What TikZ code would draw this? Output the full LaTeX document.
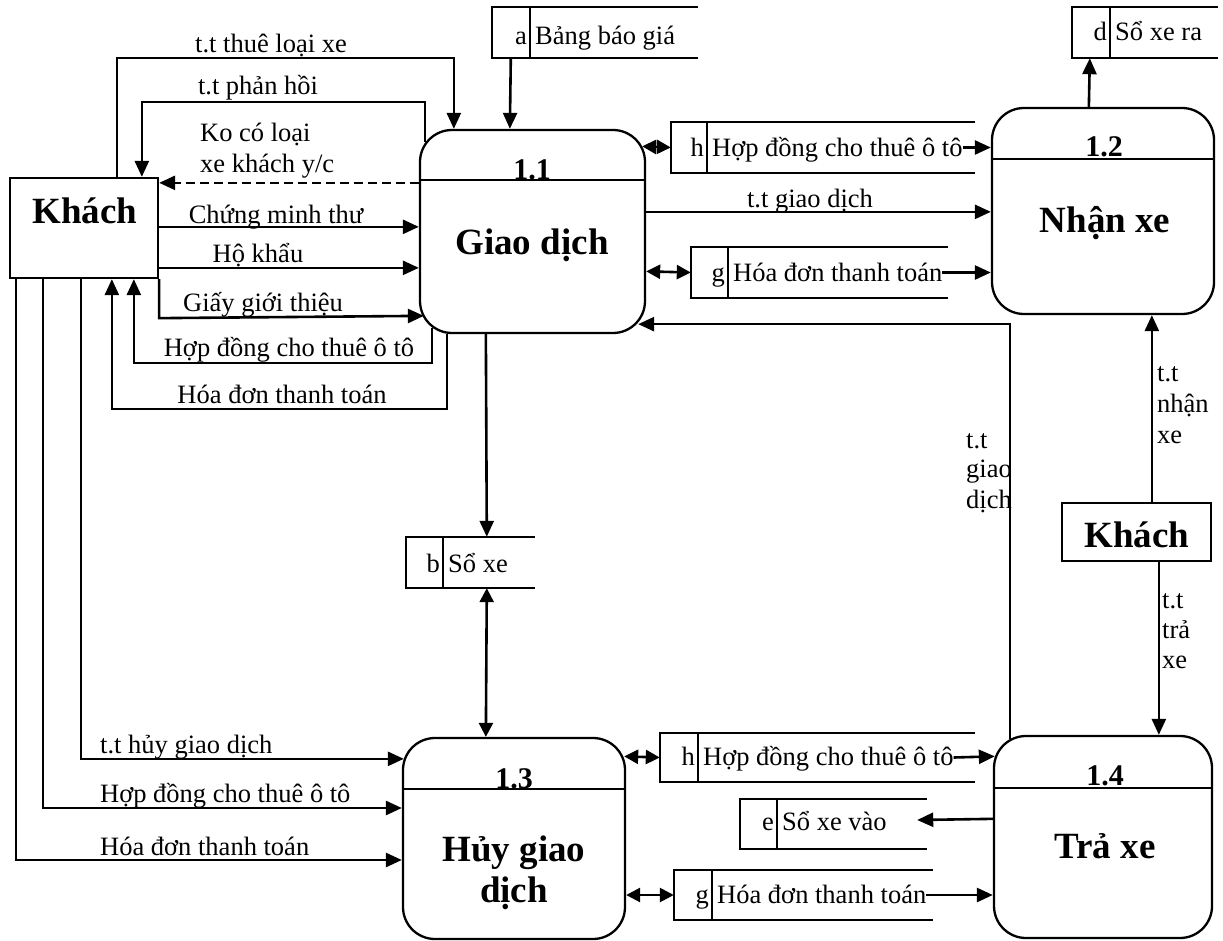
\documentclass[tikz,border=0pt]{standalone}
\usepackage{fontspec}
\setmainfont{Liberation Serif}
\usetikzlibrary{arrows.meta,calc}

% data store: name, left x, divider x, right x, top y, bottom y, letter, label, baseline offset
\newcommand{\dstore}[9]{%
  \node[inner sep=0pt, minimum width={(#4-#2)*1pt}, minimum height={(#6-#5)*1pt}]
    (#1) at ({(#2+#4)/2},{(#5+#6)/2}) {};
  \draw[boxline] (#1.north east) -- (#1.north west) -- (#1.south west) -- (#1.south east);
  \draw[boxline] (#3,#5) -- (#3,#6);
  \node[lbl, anchor=base east] (#1-id) at ({#3-3},{(#5+#6)/2+#9}) {#7};
  \node[lbl, anchor=base west] (#1-tx) at ({#3+5},{(#5+#6)/2+#9}) {#8};
}

\begin{document}
\begin{tikzpicture}[x=1pt,y=-1pt,
  boxline/.style={line width=2.3pt},
  divline/.style={line width=1.8pt},
  ext/.style={draw, line width=2.3pt, inner sep=0pt},
  proc/.style={draw, line width=2.3pt, rounded corners=32pt, inner sep=0pt},
  lbl/.style={inner sep=0pt, font=\fontsize{26.5}{30}\selectfont},
  exttxt/.style={inner sep=0pt, font=\fontsize{37}{42}\selectfont\bfseries},
  ptitle/.style={inner sep=0pt, font=\fontsize{37}{42}\selectfont\bfseries},
  pnum/.style={inner sep=0pt, font=\fontsize{30}{34}\selectfont\bfseries},
  flow/.style={draw, line width=2.6pt, -{Triangle[length=16pt,width=14pt]}},
  flowtwo/.style={draw, line width=2.6pt, {Triangle[length=14pt,width=14pt]}-{Triangle[length=14pt,width=14pt]}},
  dashflow/.style={flow, dash pattern=on 9pt off 5pt}
]
\useasboundingbox (0,0) rectangle (1223,941);

% ---------- external entities ----------
\node[ext, minimum width=148pt, minimum height=100pt] (kh1) at (84,228) {};
\node[exttxt, anchor=base] (kh1-t) at (85,224) {Khách};
\node[ext, minimum width=149pt, minimum height=58pt] (kh2) at (1136.5,532) {};
\node[exttxt, anchor=base] (kh2-t) at (1137,547) {Khách};

% ---------- processes ----------
\node[proc, minimum width=225pt, minimum height=203pt] (p11) at (532.5,231.5) {};
\draw[divline] ($(p11.north west)+(0,51)$) -- ($(p11.north east)+(0,51)$);
\node[pnum, anchor=base] (p11-n) at (532,180) {1.1};
\node[ptitle, anchor=base] (p11-t) at (532,255) {Giao dịch};

\node[proc, minimum width=222pt, minimum height=206pt] (p12) at (1103,211) {};
\draw[divline] ($(p12.north west)+(0,52)$) -- ($(p12.north east)+(0,52)$);
\node[pnum, anchor=base] (p12-n) at (1104,157) {1.2};
\node[ptitle, anchor=base] (p12-t) at (1105,233) {Nhận xe};

\node[proc, minimum width=222pt, minimum height=201pt] (p13) at (514,838.5) {};
\draw[divline] ($(p13.north west)+(0,52)$) -- ($(p13.north east)+(0,52)$);
\node[pnum, anchor=base] (p13-n) at (514,788) {1.3};
\node[ptitle, anchor=base] (p13-t1) at (514,861) {Hủy giao};
\node[ptitle, anchor=base] (p13-t2) at (514,902) {dịch};

\node[proc, minimum width=218pt, minimum height=202pt] (p14) at (1103,837) {};
\draw[divline] ($(p14.north west)+(0,53)$) -- ($(p14.north east)+(0,53)$);
\node[pnum, anchor=base] (p14-n) at (1105,785) {1.4};
\node[ptitle, anchor=base] (p14-t) at (1105,858) {Trả xe};

% ---------- data stores ----------
\dstore{sa}{492}{530}{698}{7}{58}{a}{Bảng báo giá}{12}
\dstore{sd}{1072}{1110}{1218}{7}{58}{d}{Sổ xe ra}{8}
\dstore{sh1}{671}{707}{975}{122}{173}{h}{Hợp đồng cho thuê ô tô}{9.5}
\dstore{sg1}{691}{728}{948}{247}{298}{g}{Hóa đơn thanh toán}{9.5}
\dstore{sb}{406}{443}{535}{537}{588}{b}{Sổ xe}{9.5}
\dstore{sh2}{660}{698}{975}{733}{782}{h}{Hợp đồng cho thuê ô tô}{8}
\dstore{se}{740}{777}{927}{799}{849}{e}{Sổ xe vào}{6}
\dstore{sg2}{674}{712}{933}{870}{920}{g}{Hóa đơn thanh toán}{8}

% ---------- flows between Khách and 1.1 ----------
\draw[flow] ($(kh1.north west)+(108,0)$) |- ($(p11.north west)+(35,-71)$) -- ($(p11.north west)+(35,0)$);
\node[lbl, anchor=base] (l1) at (271,53) {t.t thuê loại xe};

\draw[flow] ($(p11.north west)+(6,13)$) -- ++(0,-40) -| ($(kh1.north west)+(133,0)$);
\node[lbl, anchor=base] (l2) at (258,95) {t.t phản hồi};

\draw[dashflow] ($(p11.north west)+(0,54)$) -- ($(kh1.north east)+(0,6)$);
\node[lbl, anchor=base west] (l3a) at (200,142) {Ko có loại};
\node[lbl, anchor=base west] (l3b) at (200,173) {xe khách y/c};

\draw[flow] ($(kh1.north east)+(0,50)$) -- ($(p11.north west)+(0,98)$);
\node[lbl, anchor=base] (l4) at (276,224) {Chứng minh thư};

\draw[flow] ($(kh1.north east)+(0,91)$) -- ($(p11.north west)+(0,139)$);
\node[lbl, anchor=base] (l5) at (258,263) {Hộ khẩu};

\draw[flow] (kh1.south east) -- ++(0,39) -- ($(p11.north west)+(5,187)$);
\node[lbl, anchor=base] (l6) at (263,312) {Giấy giới thiệu};

\draw[flow] ($(p11.south west)+(13,-6)$) -- ++(0,35) -| ($(kh1.south west)+(125,0)$);
\node[lbl, anchor=base] (l7) at (289,356) {Hợp đồng cho thuê ô tô};

\draw[flow] ($(p11.south west)+(28,0)$) -- ++(0,75) -| ($(kh1.south west)+(103,0)$);
\node[lbl, anchor=base] (l8) at (282,403) {Hóa đơn thanh toán};

% ---------- flows between Khách and 1.3 ----------
\draw[flow] ($(kh1.south west)+(72,0)$) |- ($(p13.north west)+(2,22)$);
\node[lbl, anchor=base west] (l9) at (100,753) {t.t hủy giao dịch};

\draw[flow] ($(kh1.south west)+(34,0)$) |- ($(p13.west)+(0,-30.5)$);
\node[lbl, anchor=base west] (l10) at (100,802) {Hợp đồng cho thuê ô tô};

\draw[flow] ($(kh1.south west)+(7,0)$) |- ($(p13.west)+(0,21.5)$);
\node[lbl, anchor=base west] (l11) at (100,855) {Hóa đơn thanh toán};

% ---------- store access ----------
\draw[flow] ($(sa.south west)+(19,0)$) -- ($(p11.north west)+(91,0)$);
\draw[flow] ($(p11.south west)+(67,0)$) -- ($(sb.north west)+(81,0)$);
\draw[flowtwo] ($(sb.south west)+(81,0)$) -- ($(p13.north west)+(84,0)$);
\draw[flow] ($(p12.north west)+(98,0)$) -- ($(sd.south west)+(18,0)$);

\draw[flowtwo] ($(p11.north east)+(-4,17.5)$) -- (sh1.west);
\draw[flow] (sh1-tx.east |- sh1.west) -- (p12.west |- sh1.west);
\draw[flowtwo] ($(p11.north east)+(0,142.5)$) -- (sg1.west);
\draw[flow] (sg1-tx.east |- sg1.west) -- (p12.west |- sg1.west);

\draw[flowtwo] ($(p13.north east)+(-2,19.5)$) -- (sh2.west);
\draw[flow] (sh2-tx.east |- sh2.west) -- ($(p14.north west)+(2,21.5)$);
\draw[flow] ($(p14.north west)+(0,84)$) -- ($(se.east)+(-10,-4)$);
\draw[flowtwo] ($(p13.east)+(0,56.5)$) -- (sg2.west);
\draw[flow] (sg2-tx.east |- sg2.west) -- (p14.west |- sg2.west);

% ---------- process to process ----------
\draw[flow] ($(p11.north east)+(0,83)$) -- ($(p12.north west)+(0,105)$);
\node[lbl, anchor=base] (l12) at (810,208) {t.t giao dịch};

\draw[flow] ($(p14.north west)+(17,4)$) |- ($(p11.south east)+(-8,-10)$);
\node[lbl, anchor=base west] (l13a) at (966,448) {t.t};
\node[lbl, anchor=base west] (l13b) at (966,477) {giao};
\node[lbl, anchor=base west] (l13c) at (966,508) {dịch};

% ---------- second Khách ----------
\draw[flow] ($(kh2.north west)+(91,0)$) -- ($(p12.south west)+(161,0)$);
\node[lbl, anchor=base west] (l14a) at (1157,381) {t.t};
\node[lbl, anchor=base west] (l14b) at (1157,412) {nhận};
\node[lbl, anchor=base west] (l14c) at (1157,443) {xe};

\draw[flow] ($(kh2.south west)+(98,0)$) -- ($(p14.north west)+(166,0)$);
\node[lbl, anchor=base west] (l15a) at (1162,608) {t.t};
\node[lbl, anchor=base west] (l15b) at (1162,638) {trả};
\node[lbl, anchor=base west] (l15c) at (1162,668) {xe};
\end{tikzpicture}
\end{document}
